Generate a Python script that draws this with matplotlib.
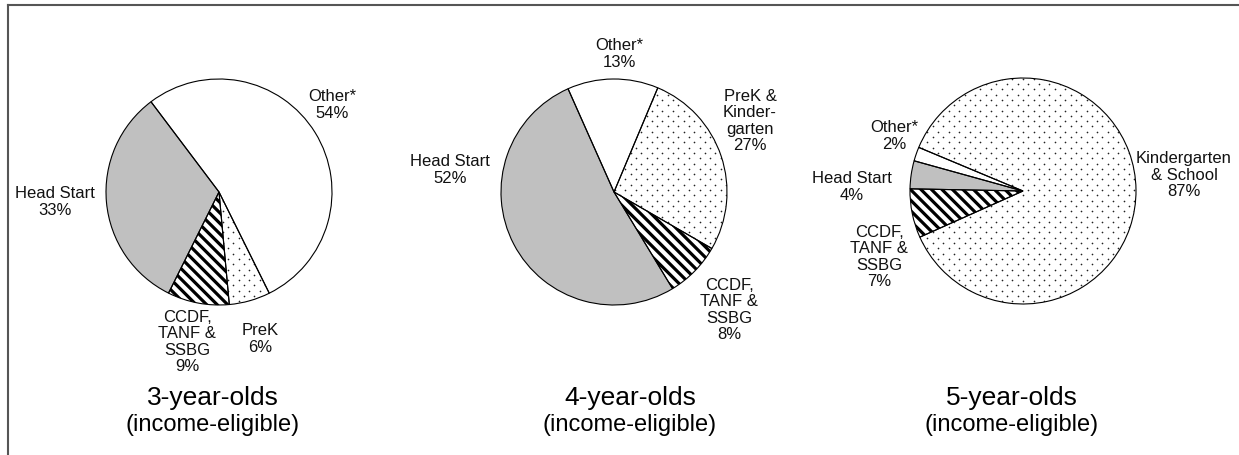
import numpy as np
import matplotlib.pyplot as plt
from matplotlib.lines import Line2D
from matplotlib.patches import PathPatch
from matplotlib.collections import LineCollection

plt.rcParams['font.family'] = ['Liberation Sans', 'DejaVu Sans']

W, H = 1239, 455

# ---- data ----
titles = ['3-year-olds', '4-year-olds', '5-year-olds']
subtitle = '(income-eligible)'

labels_3 = ['Head Start', 'CCDF,\nTANF &\nSSBG', 'PreK', 'Other*']
values_3 = [33, 9, 6, 54]

labels_4 = ['Head Start', 'CCDF,\nTANF &\nSSBG', 'PreK &\nKinder-\ngarten', 'Other*']
values_4 = [52, 8, 27, 13]

labels_5 = ['Head Start', 'CCDF,\nTANF &\nSSBG', 'Kindergarten\n& School', 'Other*']
values_5 = [4, 7, 87, 2]

# ---- layout (pixels, y measured from top) ----
centers = [(219, 192), (614, 192), (1023, 191)]
radius = 113
start_angles = [127, 114, 164.5]
label_pos = [
    [(55, 202), (187, 342), (260, 339), (332, 105)],
    [(450, 170), (729, 310), (750, 121), (619, 54)],
    [(852, 187), (879, 257), (1184, 175), (894, 136)],
]
title_x = [213, 630, 1012]

GRAY = '#c0c0c0'

fig = plt.figure(figsize=(W / 100, H / 100), dpi=100)
ax = fig.add_axes([0, 0, 1, 1])

# dot texture grid (staggered)
gx, gy = np.meshgrid(np.arange(0, W, 10.6), np.arange(0, H, 5.3))
gx[1::2] += 5.3

# diagonal stripe texture ("\" direction)
offs = np.arange(0, W + H, 10.5)
stripes = [[(c - H, H), (c, 0)] for c in offs]

all_labels = [labels_3, labels_4, labels_5]
all_values = [values_3, values_4, values_5]

for k in range(3):
    cx, cy = centers[k]
    wedges, _ = ax.pie(all_values[k], center=(cx, H - cy), radius=radius,
                       startangle=start_angles[k], counterclock=True,
                       colors=[GRAY, 'white', 'white', 'white'],
                       wedgeprops=dict(edgecolor='none', linewidth=0),
                       frame=True)
    z = wedges[0].get_zorder()
    lc = LineCollection(stripes, colors='black', linewidths=2.3, zorder=z + 0.1)
    ax.add_collection(lc)
    lc.set_clip_path(wedges[1])
    dots, = ax.plot(gx.ravel(), gy.ravel(), 'o', color='#222222',
                    markersize=1.2, markeredgewidth=0, zorder=z + 0.1)
    dots.set_clip_path(wedges[2])
    # slice outlines on top of the textures
    for w in wedges:
        ax.add_patch(PathPatch(w.get_path(), transform=w.get_transform(), fill=False,
                               edgecolor='black', linewidth=0.8, zorder=z + 0.3))

    for lab, val, (lx, ly) in zip(all_labels[k], all_values[k], label_pos[k]):
        ax.text(lx, H - ly, f'{lab}\n{val}%', ha='center', va='center',
                multialignment='center', fontsize=12, linespacing=1.12,
                color='#111111')

    ax.text(title_x[k], H - 398, titles[k], ha='center', va='center', fontsize=19)
    ax.text(title_x[k], H - 425, subtitle, ha='center', va='center', fontsize=17)

ax.set_xlim(0, W)
ax.set_ylim(0, H)
ax.set_aspect('equal')
ax.axis('off')

# cropped frame around the chart
fig.add_artist(Line2D([8 / W, 1], [1 - 4.5 / H, 1 - 4.5 / H], color='#555555', lw=1.5))
fig.add_artist(Line2D([8 / W, 8 / W], [0, 1 - 4.5 / H], color='#555555', lw=1.5))

fig.savefig('out.png', dpi=100, facecolor='white')
